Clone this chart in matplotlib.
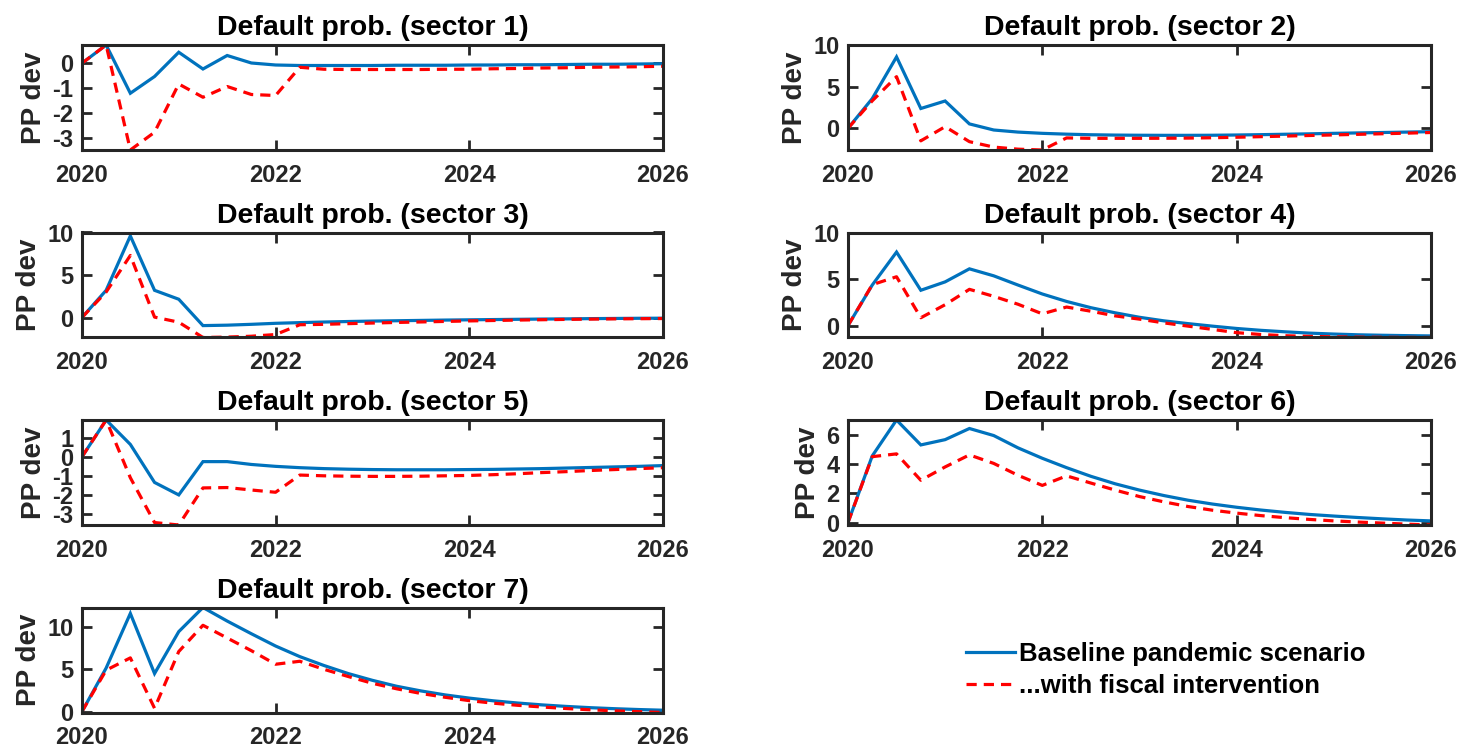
import numpy as np
import matplotlib
matplotlib.use("Agg")
import matplotlib.pyplot as plt
from matplotlib.ticker import MultipleLocator

plt.rcParams['font.family'] = ['Liberation Sans', 'DejaVu Sans']
plt.rcParams['font.weight'] = 'bold'
plt.rcParams['axes.unicode_minus'] = False

# Quarterly horizon, 2020Q1 .. 2026Q1
quarters = np.linspace(2020, 2026, 25)

sector_titles = [f"Default prob. (sector {k})" for k in range(1, 8)]

baseline_s1 = [0, 0.73, -1.2, -0.53, 0.44, -0.23, 0.31, 0.01, -0.07, -0.09, -0.09, -0.09, -0.09,
               -0.08, -0.08, -0.08, -0.07, -0.07, -0.06, -0.06, -0.05, -0.04, -0.04, -0.03, -0.02]
fiscal_s1 = [0, 0.73, -3.47, -2.76, -0.83, -1.36, -0.93, -1.25, -1.29, -0.16, -0.24, -0.25, -0.25,
             -0.25, -0.25, -0.24, -0.24, -0.22, -0.21, -0.19, -0.18, -0.16, -0.15, -0.14, -0.12]

baseline_s2 = [0, 3.57, 8.57, 2.38, 3.28, 0.53, -0.2, -0.45, -0.6, -0.7, -0.77, -0.81, -0.83,
               -0.84, -0.84, -0.83, -0.8, -0.76, -0.71, -0.66, -0.6, -0.55, -0.5, -0.45, -0.4]
fiscal_s2 = [0, 3.3, 6.2, -1.5, 0.2, -1.6, -2.25, -2.5, -2.6, -1.15, -1.2, -1.2, -1.2,
             -1.19, -1.17, -1.13, -1.07, -1.0, -0.93, -0.86, -0.79, -0.72, -0.65, -0.58, -0.5]

baseline_s3 = [0, 3.2, 9.6, 3.2, 2.15, -0.95, -0.9, -0.8, -0.68, -0.6, -0.53, -0.47, -0.42,
               -0.38, -0.34, -0.3, -0.27, -0.24, -0.21, -0.18, -0.16, -0.13, -0.11, -0.09, -0.08]
fiscal_s3 = [0, 3.0, 7.3, 0.05, -0.55, -2.35, -2.3, -2.2, -2.0, -0.85, -0.8, -0.72, -0.65,
             -0.58, -0.52, -0.46, -0.4, -0.35, -0.3, -0.26, -0.22, -0.19, -0.16, -0.14, -0.12]

baseline_s4 = [0, 4.36, 7.9, 3.8, 4.7, 6.1, 5.35, 4.36, 3.4, 2.6, 1.93, 1.38, 0.9,
               0.52, 0.22, -0.05, -0.3, -0.5, -0.66, -0.8, -0.9, -0.98, -1.03, -1.07, -1.1]
fiscal_s4 = [0, 4.4, 5.25, 0.85, 2.25, 3.9, 3.15, 2.3, 1.27, 2.0, 1.55, 1.05, 0.7,
             0.3, -0.05, -0.4, -0.75, -0.95, -1.08, -1.15, -1.2, -1.23, -1.25, -1.26, -1.27]

baseline_s5 = [0, 1.95, 0.66, -1.35, -2.01, -0.25, -0.25, -0.4, -0.5, -0.57, -0.62, -0.65, -0.67,
               -0.68, -0.68, -0.68, -0.67, -0.66, -0.64, -0.62, -0.59, -0.56, -0.53, -0.5, -0.46]
fiscal_s5 = [0, 1.95, -1.1, -3.47, -3.6, -1.64, -1.62, -1.75, -1.87, -0.96, -1.0, -1.02, -1.03,
             -1.03, -1.02, -1.0, -0.98, -0.94, -0.89, -0.83, -0.78, -0.72, -0.67, -0.62, -0.57]

baseline_s6 = [0, 4.55, 7.0, 5.3, 5.66, 6.42, 5.94, 5.1, 4.39, 3.75, 3.16, 2.65, 2.22,
               1.85, 1.53, 1.27, 1.05, 0.86, 0.7, 0.56, 0.45, 0.35, 0.26, 0.18, 0.12]
fiscal_s6 = [0, 4.5, 4.69, 2.89, 3.8, 4.62, 4.04, 3.23, 2.54, 3.19, 2.7, 2.22, 1.78,
             1.42, 1.1, 0.85, 0.65, 0.48, 0.34, 0.22, 0.12, 0.04, -0.03, -0.1, -0.16]

baseline_s7 = [0, 5.15, 11.6, 4.5, 9.45, 12.3, 10.7, 9.2, 7.75, 6.5, 5.45, 4.5, 3.7,
               3.0, 2.45, 1.98, 1.6, 1.28, 1.02, 0.8, 0.62, 0.47, 0.35, 0.25, 0.17]
fiscal_s7 = [0, 4.9, 6.35, 0.4, 7.1, 10.2, 8.7, 7.2, 5.6, 5.95, 5.0, 4.15, 3.35,
             2.7, 2.15, 1.7, 1.3, 1.0, 0.75, 0.55, 0.37, 0.22, 0.1, 0.0, -0.1]

baselines = [baseline_s1, baseline_s2, baseline_s3, baseline_s4, baseline_s5, baseline_s6, baseline_s7]
fiscals = [fiscal_s1, fiscal_s2, fiscal_s3, fiscal_s4, fiscal_s5, fiscal_s6, fiscal_s7]

y_tops = [None, 10, 10, 10, None, None, None]
y_steps = [1, 5, 5, 5, 1, 2, 5]
year_ticks = [2020, 2022, 2024, 2026]

legend_labels = ["Baseline pandemic scenario", "...with fiscal intervention"]

ink = '#262626'
blue = '#0072BD'
red = '#FF0000'

fig = plt.figure(figsize=(14.63, 7.5), dpi=100)

col_x = [0.0560, 0.5796]
col_w = [0.3971, 0.3985]
row_y = [0.80, 0.55, 0.30, 0.05]
ax_h = 0.14

handles = None
for k in range(7):
    r, c = divmod(k, 2)
    ax = fig.add_axes([col_x[c], row_y[r], col_w[c], ax_h])
    b = np.array(baselines[k])
    f = np.array(fiscals[k])
    hb, = ax.plot(quarters, b, color=blue, lw=2.3, solid_joinstyle='miter')
    hf, = ax.plot(quarters, f, color=red, lw=2.3, ls=(0, (3.2, 2.2)))
    handles = [hb, hf]
    lo = min(b.min(), f.min())
    hi = max(b.max(), f.max()) if y_tops[k] is None else y_tops[k]
    ax.set_xlim(2020, 2026)
    ax.set_ylim(lo, hi)
    ax.set_xticks(year_ticks)
    ax.yaxis.set_major_locator(MultipleLocator(y_steps[k]))
    ax.tick_params(direction='in', top=True, right=True, length=7, width=2.0,
                   colors=ink, labelsize=17)
    ax.tick_params(axis='x', pad=10)
    ax.tick_params(axis='y', pad=6)
    for lab in ax.get_xticklabels() + ax.get_yticklabels():
        lab.set_fontweight('bold')
    for sp in ax.spines.values():
        sp.set_linewidth(2.2)
        sp.set_color(ink)
    ax.set_title(sector_titles[k], fontsize=20.5, fontweight='bold', color='black', pad=7)
    ax.set_ylabel("PP dev", fontsize=20, fontweight='bold', color=ink, labelpad=4)

fig.legend(handles, legend_labels, loc='upper left', bbox_to_anchor=(956 / 1463, 1 - 632 / 750),
           frameon=False, prop={'weight': 'bold', 'size': 18.5},
           handlelength=1.9, handletextpad=0.15, labelspacing=0.3, borderaxespad=0)

fig.savefig("out.png", dpi=100)
